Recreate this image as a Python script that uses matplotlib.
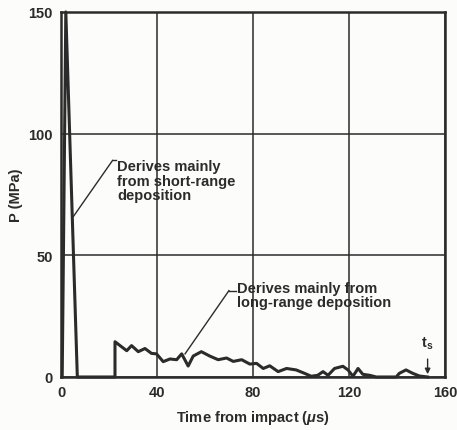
import matplotlib.pyplot as plt

# pressure history
time_us = [0.5, 2.0, 6.8, 22.5, 22.5, 24.6, 27.4, 29.4, 32.2, 35.0, 37.7, 39.8, 42.6, 45.4,
           48.2, 50.3, 53.0, 55.1, 58.5, 62.0, 65.5, 69.0, 71.8, 75.3, 78.7, 81.5, 84.3,
           87.0, 90.5, 94.0, 98.0, 101.5, 104.3, 107.0, 109.2, 111.3, 114.0, 117.5, 119.6,
           121.7, 123.8, 125.8, 128.6, 131.4, 139.7, 141.0, 143.8, 146.6, 149.4, 152.8]
p_mpa = [0, 150, 0, 0, 14.5, 12.9, 10.8, 12.9, 10.4, 11.7, 9.7, 9.5, 6.3, 7.4,
         7.1, 9.5, 4.5, 8.6, 10.4, 8.6, 7.1, 7.8, 6.4, 7.1, 5.3, 5.6, 3.5,
         4.6, 2.2, 3.5, 2.9, 1.5, 0.3, 0.7, 2.2, 0.7, 3.5, 4.4, 2.9,
         0.3, 3.5, 1.1, 0.7, 0.0, 0.0, 1.5, 2.9, 1.5, 0.4, 0.0]

xticks = [0, 40, 80, 120, 160]
yticks = [0, 50, 100, 150]
ink = '#2b2b2b'

plt.rcParams['font.family'] = ['Liberation Sans', 'DejaVu Sans']
plt.rcParams['font.weight'] = 'bold'
plt.rcParams['axes.labelweight'] = 'bold'
plt.rcParams['mathtext.fontset'] = 'custom'
plt.rcParams['mathtext.rm'] = 'Liberation Sans:bold'
plt.rcParams['mathtext.it'] = 'Liberation Sans:italic:bold'
plt.rcParams['mathtext.bf'] = 'Liberation Sans:bold'

fig = plt.figure(figsize=(4.57, 4.31), dpi=100, facecolor='#fcfcfa')
ax = fig.add_axes([0.1335, 0.123, 0.840, 0.847])
ax.set_facecolor('#fcfcfa')

ax.plot(time_us, p_mpa, color=ink, lw=2.2, solid_joinstyle='round', clip_on=False, zorder=3)

ax.set_xlim(0, 160)
ax.set_ylim(0, 150)
ax.set_xticks(xticks)
ax.set_yticks(yticks)
ax.tick_params(length=0, labelsize=10.5, colors=ink, pad=6)
ax.grid(True, color=ink, lw=1.1)
for s in ax.spines.values():
    s.set_linewidth(1.8)
    s.set_color(ink)

ax.set_xlabel('Time from impact ($\\mu$s)', fontsize=10.5, color=ink, labelpad=6)
ax.set_ylabel('P (MPa)', fontsize=10.5, color=ink, labelpad=4)

# annotations
ax.text(23.5, 89.5, 'Derives mainly\nfrom short-range\ndeposition', fontsize=10.5,
        color=ink, va='top', ha='left', linespacing=1.05, zorder=4)
ax.plot([21.5, 23.0], [89, 89], color=ink, lw=1.0)
ax.plot([21.5, 5.2], [89, 66], color=ink, lw=1.0)

ax.text(73.5, 39.5, 'Derives mainly from\nlong-range deposition', fontsize=10.5,
        color=ink, va='top', ha='left', linespacing=1.05, zorder=4)
ax.plot([70.0, 73.0], [35.5, 35.5], color=ink, lw=1.0)
ax.plot([70.0, 51.7], [35.5, 9.5], color=ink, lw=1.0)

ax.annotate('', xy=(152.8, 0), xytext=(152.8, 8.5),
            arrowprops=dict(arrowstyle='-|>', color=ink, lw=1.0, mutation_scale=8))
ax.text(152.5, 10.5, 't$_\\mathrm{s}$', fontsize=10.5, color=ink, ha='center', va='bottom')

fig.savefig('out.png', dpi=100, facecolor=fig.get_facecolor())
